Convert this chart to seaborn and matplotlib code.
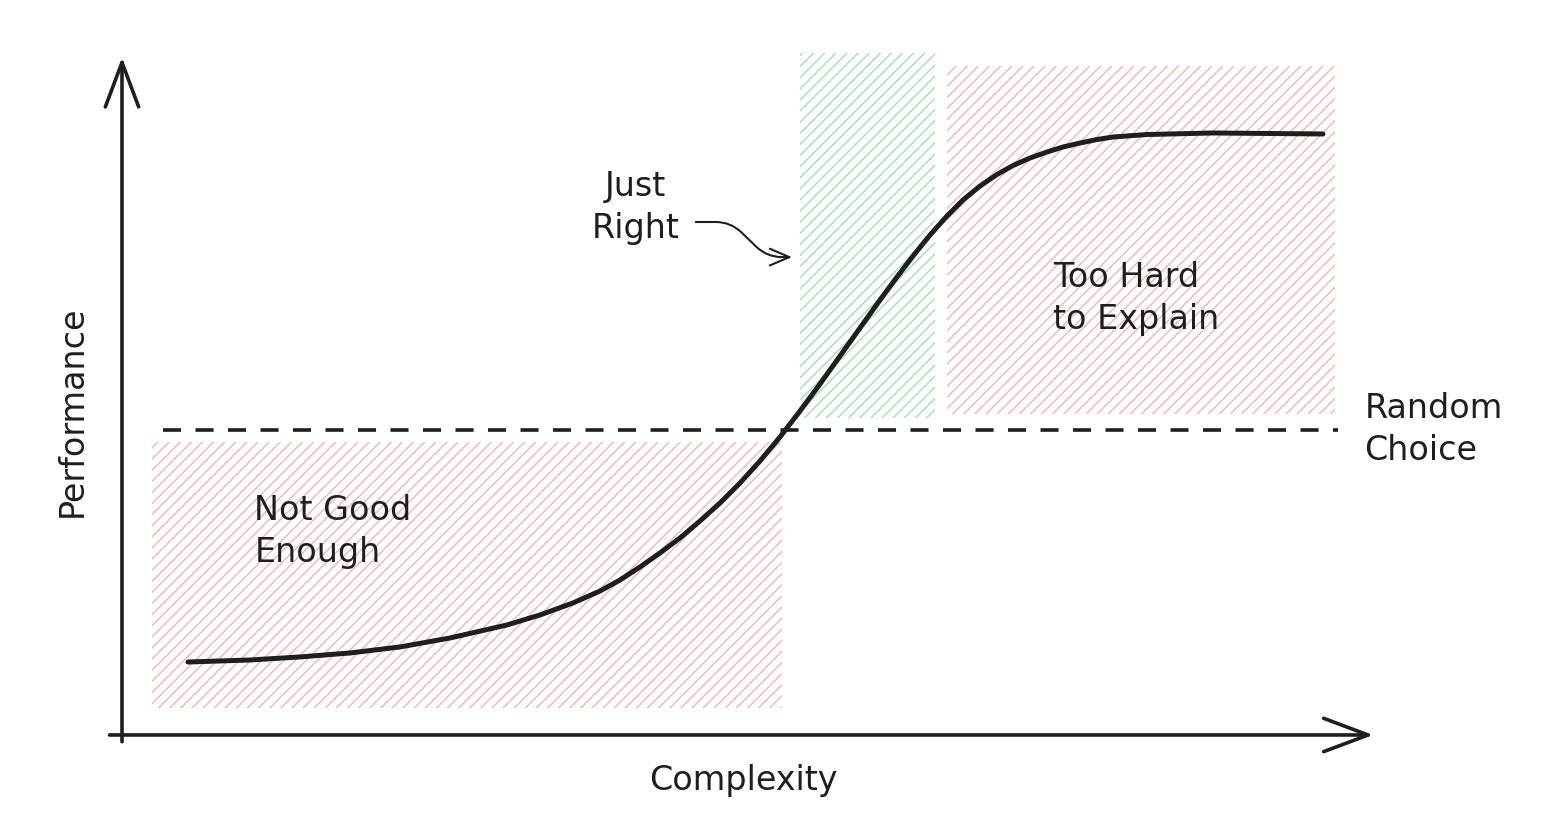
"""
Sketch of the performance vs complexity trade-off (sigmoid curve with zones)
"""

import numpy as np
import pandas as pd
import seaborn as sns
import matplotlib.pyplot as plt

sns.set_theme(style="white")
plt.rcParams['font.family'] = ['DejaVu Sans']
plt.rcParams['hatch.linewidth'] = 1.1

# curve
complexity = [5.28, 10.24, 14.24, 18.24, 22.24, 26.24, 30.80, 33.44, 36.08, 38.24, 39.84, 41.44,
              43.04, 44.64, 46.24, 47.84, 49.44, 51.04, 52.64, 54.24, 55.84, 57.44, 59.04, 60.64,
              62.00, 63.28, 64.64, 66.00, 67.28, 68.64, 70.00, 71.28, 72.64, 74.00, 75.28, 76.64,
              78.00, 79.28, 82.00, 87.28, 96.08]
performance = [10.81, 11.11, 11.56, 12.15, 13.04, 14.37, 16.30, 17.78, 19.56, 21.33, 22.96, 24.89,
               26.96, 29.19, 31.70, 34.37, 37.33, 40.59, 44.15, 48.00, 52.00, 56.15, 60.30, 64.44,
               67.85, 70.96, 74.07, 76.89, 79.26, 81.33, 83.04, 84.37, 85.48, 86.37, 87.11, 87.70,
               88.22, 88.59, 88.96, 89.19, 89.04]

random_choice = 45.2
random_span = [3.3, 97.3]

# zones: x range, y range, colour
zone_names = ['Not Good\nEnough', 'Just Right', 'Too Hard\nto Explain']
zone_x = [[2.4, 52.8], [54.2, 65.0], [66.0, 97.0]]
zone_y = [[4.0, 43.4], [47.0, 101.0], [47.6, 99.1]]
zone_colors = ['#f5b8b8', '#a6e2b6', '#f5b8b8']

ink = '#1e1e1e'
fs = 24

fig = plt.figure(figsize=(15.54, 8.34), dpi=100)
ax = fig.add_axes([0, 0, 1, 1])

for xs, ys, c in zip(zone_x, zone_y, zone_colors):
    ax.fill_between(xs, ys[0], ys[1], facecolor='none', edgecolor=c, linewidth=0, hatch='///')

ax.plot(random_span, [random_choice] * 2, color=ink, lw=2.6, linestyle=(0, (5.0, 4.0)))

df = pd.DataFrame({'Complexity': complexity, 'Performance': performance})
sns.lineplot(data=df, x='Complexity', y='Performance', ax=ax, color=ink, lw=3.6,
             solid_capstyle='round', solid_joinstyle='round')

ax.set_xlim(-9.76, 114.56)
ax.set_ylim(-14.67, 108.89)
ax.axis('off')

# hand-drawn style axes arrows
axis_arrow = dict(arrowstyle='->,head_length=2.0,head_width=0.75', color=ink, lw=2.6,
                  shrinkA=0, shrinkB=0, mutation_scale=16)
ax.annotate('', xy=(0, 100.4), xytext=(0, -1.0), arrowprops=axis_arrow)
ax.annotate('', xy=(100.1, 0), xytext=(-1.0, 0), arrowprops=axis_arrow)

ax.text(49.7, -6.7, 'Complexity', ha='center', va='center', fontsize=fs, color=ink)
ax.text(-4.0, 47.9, 'Performance', ha='center', va='center', fontsize=fs, color=ink, rotation=90)

ax.text(10.6, 30.1, zone_names[0], ha='left', va='center', fontsize=fs, color=ink, linespacing=1.35)
ax.text(74.5, 64.7, zone_names[2], ha='left', va='center', fontsize=fs, color=ink, linespacing=1.35)
ax.text(99.4, 45.3, 'Random\nChoice', ha='left', va='center', fontsize=fs, color=ink, linespacing=1.35)
ax.text(41.1, 78.2, 'Just\nRight', ha='center', va='center', fontsize=fs, color=ink, linespacing=1.35)

ax.annotate('', xy=(53.6, 70.8), xytext=(45.9, 76.0),
            arrowprops=dict(arrowstyle='->,head_length=0.7,head_width=0.3', color=ink, lw=1.5,
                            shrinkA=0, shrinkB=0, mutation_scale=20,
                            connectionstyle='arc,angleA=0,angleB=180,armA=35,armB=25,rad=15'))

plt.savefig('out.png', dpi=100, facecolor='white')
